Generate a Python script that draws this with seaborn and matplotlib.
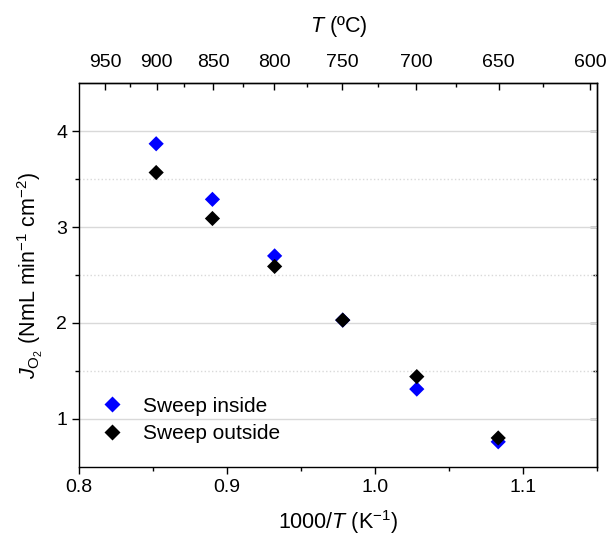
import numpy as np
import matplotlib
matplotlib.use("Agg")
import matplotlib.pyplot as plt
import pandas as pd
import seaborn as sns
from matplotlib.ticker import MultipleLocator, FixedLocator

# data
inv_T = [0.852, 0.890, 0.932, 0.978, 1.028, 1.083]
flux_inside = [3.87, 3.29, 2.70, 2.03, 1.31, 0.76]
flux_outside = [3.57, 3.09, 2.59, 2.03, 1.44, 0.80]
series_names = ["Sweep inside", "Sweep outside"]
top_ticks_C = [950, 900, 850, 800, 750, 700, 650, 600]
top_minor_C = [925, 875, 825, 775, 725, 675, 625]

df = pd.DataFrame({
    "x": inv_T * 2,
    "y": flux_inside + flux_outside,
    "series": [series_names[0]] * 6 + [series_names[1]] * 6,
})

sns.set_theme(style="white")
plt.rcParams["font.family"] = ["Liberation Sans", "DejaVu Sans"]
plt.rcParams["mathtext.fontset"] = "custom"
plt.rcParams["mathtext.rm"] = "Liberation Sans"
plt.rcParams["mathtext.it"] = "Liberation Sans:italic"
for k in ["text.color", "axes.labelcolor", "xtick.color", "ytick.color"]:
    plt.rcParams[k] = "black"

fig, ax = plt.subplots(figsize=(6.09, 5.38), dpi=100)
fig.subplots_adjust(left=0.130, right=0.981, top=0.845, bottom=0.1325)

sns.scatterplot(data=df, x="x", y="y", hue="series", marker="D", s=60,
                palette={"Sweep inside": "#0000ff", "Sweep outside": "black"},
                edgecolor="none", ax=ax, zorder=3)

ax.set_xlim(0.8, 1.15)
ax.set_ylim(0.5, 4.5)
ax.xaxis.set_major_locator(MultipleLocator(0.1))
ax.xaxis.set_minor_locator(MultipleLocator(0.05))
ax.yaxis.set_major_locator(FixedLocator([1, 2, 3, 4]))
ax.yaxis.set_minor_locator(FixedLocator([1.5, 2.5, 3.5]))
ax.set_xticklabels([f"{v:.1f}" for v in ax.get_xticks()])

ax.grid(which="major", axis="y", color="#d9d9d9", linewidth=1.0, linestyle="-")
ax.grid(which="minor", axis="y", color="#d9d9d9", linewidth=1.0, linestyle=":")
ax.set_axisbelow(True)

for sp in ax.spines.values():
    sp.set_color("black")
    sp.set_linewidth(1.0)

ax.tick_params(axis="x", which="both", direction="out", bottom=True, top=False,
               labelsize=14, color="black", width=1.0)
ax.tick_params(axis="x", which="major", length=5)
ax.tick_params(axis="x", which="minor", length=3)
ax.tick_params(axis="y", which="both", direction="out", left=True, labelsize=14,
               color="black", width=1.0)
ax.tick_params(axis="y", which="major", length=5)
ax.tick_params(axis="y", which="minor", length=3)

# right side inward ticks
axr = ax.secondary_yaxis("right")
axr.yaxis.set_major_locator(FixedLocator([1, 2, 3, 4]))
axr.yaxis.set_minor_locator(FixedLocator([1.5, 2.5, 3.5]))
axr.tick_params(which="both", direction="in", labelright=False, color="black", width=1.0)
axr.tick_params(which="major", length=5)
axr.tick_params(which="minor", length=3)
axr.spines["right"].set_linewidth(1.0)

# top axis in Celsius
top = ax.secondary_xaxis("top", functions=(lambda v: 1000.0 / v - 273.15,
                                           lambda t: 1000.0 / (t + 273.15)))
top.xaxis.set_major_locator(FixedLocator(top_ticks_C))
top.xaxis.set_minor_locator(FixedLocator(top_minor_C))
top.set_xticklabels([str(t) for t in top_ticks_C])
top.tick_params(which="both", direction="in", labelsize=14, color="black", width=1.0, pad=9)
top.tick_params(which="major", length=5)
top.tick_params(which="minor", length=3)
top.spines["top"].set_linewidth(1.0)
top.set_xlabel("$T$ (ºC)", fontsize=15.5, labelpad=16)

ax.set_xlabel("1000/$T$ (K$^{-1}$)", fontsize=15.5, labelpad=9)
ax.set_ylabel("$J_{\\mathrm{O_2}}$ (NmL min$^{-1}$ cm$^{-2}$)", fontsize=15.5, labelpad=8)

ax.legend(loc="lower left", bbox_to_anchor=(0.008, 0.04), frameon=False, fontsize=15,
          handletextpad=0.45, labelspacing=0.4, borderaxespad=0)

fig.savefig("out.png", dpi=100)
